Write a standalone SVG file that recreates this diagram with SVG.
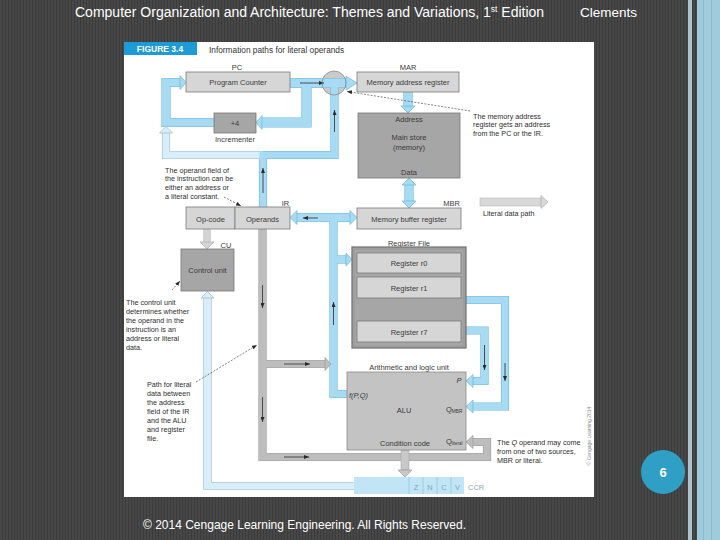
<svg xmlns="http://www.w3.org/2000/svg" width="720" height="540" viewBox="0 0 720 540">
<defs>
<pattern id="stripes" width="3" height="10" patternUnits="userSpaceOnUse">
<rect width="3" height="10" fill="#474747"/>
<rect x="2" width="1" height="10" fill="#3b3b3b"/>
</pattern>
<marker id="ah" markerUnits="userSpaceOnUse" markerWidth="5" markerHeight="4" refX="5" refY="2" orient="auto">
<path d="M0,0 L5,2 L0,4 z" fill="#2b2b2b"/>
</marker>
<style>
text{font-family:'Liberation Sans',Arial,sans-serif;}
.lbl{font-size:7.5px;fill:#3a3a3a;text-anchor:middle;}
.note{font-size:7.2px;fill:#2e2e2e;}
.box{fill:#d6d6d6;stroke:#7a7a7a;stroke-width:0.8;}
.dbox{fill:#a6a6a6;stroke:#777;stroke-width:0.8;}
.bo{fill:none;stroke:#6fb4d8;}
.bf{fill:none;stroke:#a7dbf4;}
.po{fill:none;stroke:#9fb6c2;}
.pf{fill:none;stroke:#d8eff9;}
.go{fill:none;stroke:#9c9c9c;}
.gf{fill:none;stroke:#bdbdbd;}
.bh{fill:#a7dbf4;stroke:#6fb4d8;stroke-width:0.7;}
.ph{fill:#d8eff9;stroke:#9fb6c2;stroke-width:0.7;}
.gh{fill:#bdbdbd;stroke:#9c9c9c;stroke-width:0.7;}
.lh{fill:#d4d4d4;stroke:#b0b0b0;stroke-width:0.7;}
.da{fill:none;stroke:#2b2b2b;stroke-width:0.8;marker-end:url(#ah);}
.dash{fill:none;stroke:#333;stroke-width:0.6;stroke-dasharray:2 1.4;marker-end:url(#ah);}
</style>
</defs>

<!-- page background -->
<rect width="720" height="540" fill="url(#stripes)"/>
<rect x="688" y="0" width="4" height="540" fill="#aac3cf"/>
<rect x="697" y="0" width="23" height="540" fill="#9fcbdc"/>
<rect x="703" y="0" width="1" height="540" fill="#8db9cb"/>
<rect x="711" y="0" width="1" height="540" fill="#8db9cb"/>

<text x="75" y="17" font-size="14" fill="#ffffff">Computer Organization and Architecture: Themes and Variations, 1<tspan font-size="8.5" dy="-5">st</tspan><tspan dy="5"> Edition</tspan></text>
<text x="580" y="17" font-size="13.5" fill="#ffffff">Clements</text>
<text x="143" y="529" font-size="12" fill="#ffffff">© 2014 Cengage Learning Engineering. All Rights Reserved.</text>

<g id="page-number">
<circle cx="663" cy="472" r="22" fill="#2f9fc6"/>
<text x="663" y="477" font-size="13" font-weight="bold" fill="#ffffff" text-anchor="middle">6</text>
</g>

<!-- figure area -->
<rect x="124" y="42" width="470" height="455" fill="#ffffff"/>
<g id="caption">
<rect x="124" y="42" width="73" height="13" fill="#1e9ad6"/>
<text x="160" y="52" font-size="8.5" font-weight="bold" fill="#ffffff" text-anchor="middle">FIGURE 3.4</text>
<text x="209" y="52.5" font-size="8.3" fill="#333">Information paths for literal operands</text>
</g>

<!-- multiplexer circle fill -->
<circle cx="334" cy="83" r="12" fill="#cacaca"/>

<g id="connectors">
<!-- outlines -->
<path class="bo" stroke-width="10.2" d="M290,83 H347"/>
<path class="bo" stroke-width="10.2" d="M306.5,83 V122.5 H262"/>
<path class="bo" stroke-width="9.2" d="M214,122.5 H166 V82.5 H180"/>
<path class="po" stroke-width="8.2" d="M263,155 H166 V133"/>
<path class="po" stroke-width="8.2" d="M354,486 H207.5 V298"/>
<path class="bo" stroke-width="8.2" d="M263,207 V155 H334.5 V84"/>
<path class="bo" stroke-width="9.2" d="M408,92 V106"/>
<path class="bo" stroke-width="9.2" d="M409,185 V201"/>
<path class="bo" stroke-width="9.2" d="M297,217.5 H350"/>
<path class="bo" stroke-width="8.2" d="M333.5,217.5 V394 H347"/>
<path class="bo" stroke-width="8.2" d="M333.5,259.5 H346"/>
<path class="bo" stroke-width="8.2" d="M466,300 H505 V406.5 H473"/>
<path class="bo" stroke-width="8.2" d="M466,330.5 H484.5 V381 H473"/>
<path class="go" stroke-width="8.2" d="M262.5,229 V457 H487 V442 H473"/>
<path class="go" stroke-width="8.2" d="M262.5,364 H325"/>
<!-- fills -->
<path class="bf" stroke-width="9" d="M290,83 H347"/>
<path class="bf" stroke-width="9" d="M306.5,83 V122.5 H262"/>
<path class="bf" stroke-width="8" d="M214,122.5 H166 V82.5 H180"/>
<path class="pf" stroke-width="7" d="M263,155 H166 V133"/>
<path class="pf" stroke-width="7" d="M354,486 H207.5 V298"/>
<path class="bf" stroke-width="7" d="M263,207 V155 H334.5 V84"/>
<path class="bf" stroke-width="8" d="M408,92 V106"/>
<path class="bf" stroke-width="8" d="M409,185 V201"/>
<path class="bf" stroke-width="8" d="M297,217.5 H350"/>
<path class="bf" stroke-width="7" d="M333.5,217.5 V394 H347"/>
<path class="bf" stroke-width="7" d="M333.5,259.5 H346"/>
<path class="bf" stroke-width="7" d="M466,300 H505 V406.5 H473"/>
<path class="bf" stroke-width="7" d="M466,330.5 H484.5 V381 H473"/>
<path class="gf" stroke-width="7" d="M262.5,229 V457 H487 V442 H473"/>
<path class="gf" stroke-width="7" d="M262.5,364 H325"/>
<!-- light gray arrows -->
<rect x="203" y="229" width="8" height="13" fill="#d4d4d4"/>
<polygon class="lh" points="200,242 207,249 214,242"/>
<rect x="401" y="450" width="8" height="20" fill="#c8c8c8" stroke="#a8a8a8" stroke-width="0.6"/>
<polygon class="gh" points="398,470 405,477 412,470" style="fill:#c8c8c8"/>
<rect x="480" y="198" width="61" height="8" fill="#d8d8d8" stroke="#bdbdbd" stroke-width="0.6"/>
<polygon class="lh" points="541,195.5 548,202 541,208.5" style="fill:#d8d8d8"/>
<!-- heads -->
<polygon class="bh" points="346,76 357,83 346,90"/>
<polygon class="bh" points="262,115.5 256,122.5 262,129.5"/>
<polygon class="bh" points="180,75.5 186,82.5 180,89.5"/>
<polygon class="ph" points="159.5,133 166,126.5 172.5,133"/>
<polygon class="ph" points="201,298 207.5,291.5 214,298"/>
<polygon class="bh" points="401,106 408,113 415,106"/>
<polygon class="bh" points="402,185 409,178 416,185"/>
<polygon class="bh" points="402,201 409,208 416,201"/>
<polygon class="bh" points="297,210.5 290,217.5 297,224.5"/>
<polygon class="bh" points="350,210.5 357,217.5 350,224.5"/>
<polygon class="bh" points="346,253 352,259.5 346,266"/>
<polygon class="bh" points="473,400 466,406.5 473,413"/>
<polygon class="bh" points="473,374.5 466,381 473,387.5"/>
<polygon class="gh" points="473,435.5 466,442 473,448.5"/>
<polygon class="gh" points="325,357.5 331,364 325,370.5"/>
<!-- direction arrows -->
<path class="da" d="M300,83 H324"/>
<path class="da" d="M334.5,132 V110"/>
<path class="da" d="M263,193 V168"/>
<path class="da" d="M318,218 H303"/>
<path class="da" d="M333.5,325 V302"/>
<path class="da" d="M505,363 V381"/>
<path class="da" d="M484.5,345 V370"/>
<path class="da" d="M262.5,285 V308"/>
<path class="da" d="M262.5,397 V422"/>
<path class="da" d="M284,457 H309"/>
<path class="da" d="M284,364 H310"/>
<!-- dashed callouts -->
<path class="dash" d="M470,111 L347,91.5"/>
<path class="dash" d="M224,197 L241,206"/>
<path class="dash" d="M172,290 L180,281"/>
<path class="dash" d="M196,382 L257,345"/>
</g>

<g id="mux"><circle cx="334" cy="83" r="12" fill="none" stroke="#8a8a8a" stroke-width="0.8"/></g>

<g id="pc">
<text class="lbl" x="237" y="70">PC</text>
<rect class="box" x="186" y="72" width="104" height="20"/>
<text class="lbl" x="238" y="85">Program Counter</text>
</g>
<g id="incrementer">
<rect class="dbox" x="214" y="113" width="42" height="20"/>
<text class="lbl" x="235" y="126">+4</text>
<text class="lbl" x="235" y="142">Incrementer</text>
</g>
<g id="mar">
<text class="lbl" x="408" y="70">MAR</text>
<rect class="box" x="357" y="72" width="102" height="20"/>
<text class="lbl" x="408" y="85">Memory address register</text>
</g>
<g id="main-store">
<rect class="dbox" x="358" y="113" width="102" height="65"/>
<text class="lbl" x="409" y="122">Address</text>
<text class="lbl" x="409" y="139.5">Main store</text>
<text class="lbl" x="409" y="150">(memory)</text>
<text class="lbl" x="409" y="174.5">Data</text>
</g>
<g id="mbr">
<text class="lbl" x="460" y="205.5" style="text-anchor:end">MBR</text>
<rect class="box" x="357" y="208" width="104" height="21"/>
<text class="lbl" x="409" y="221.5">Memory buffer register</text>
</g>
<g id="legend">
<text class="note" x="483" y="215.5">Literal data path</text>
</g>
<g id="ir">
<text class="lbl" x="285.5" y="205.5">IR</text>
<rect class="box" x="186" y="207" width="49" height="22"/>
<rect class="box" x="235" y="207" width="55" height="22"/>
<text class="lbl" x="210.5" y="221.5">Op-code</text>
<text class="lbl" x="262.5" y="221.5">Operands</text>
</g>
<g id="control-unit">
<text class="lbl" x="226" y="247.5">CU</text>
<rect class="dbox" x="181" y="249" width="53" height="42"/>
<text class="lbl" x="207.5" y="272.5">Control unit</text>
</g>
<g id="register-file">
<text class="lbl" x="409" y="245.5">Register File</text>
<rect x="352" y="247" width="114" height="101" fill="#a6a6a6" stroke="#6e6e6e" stroke-width="1.2"/>
<rect x="354" y="249" width="110" height="97" fill="none" stroke="#8c8c8c" stroke-width="0.6"/>
<rect class="box" x="357" y="253" width="104" height="20"/>
<text class="lbl" x="409" y="265.5">Register r0</text>
<rect class="box" x="357" y="277" width="104" height="21"/>
<text class="lbl" x="409" y="290.5">Register r1</text>
<rect class="box" x="357" y="321" width="104" height="21"/>
<text class="lbl" x="409" y="334.5">Register r7</text>
</g>
<g id="alu">
<text class="lbl" x="409" y="369.5">Arithmetic and logic unit</text>
<rect x="347" y="372" width="119" height="78" fill="#c3c3c3" stroke="#8a8a8a" stroke-width="0.8"/>
<text class="lbl" x="459" y="383" font-style="italic">P</text>
<text class="lbl" x="349" y="398" font-style="italic" style="text-anchor:start">f(P,Q)</text>
<text class="lbl" x="404" y="412.5">ALU</text>
<text class="lbl" x="446" y="412" style="text-anchor:start">Q<tspan font-size="4.8" dy="1">MBR</tspan></text>
<text class="lbl" x="446" y="444" style="text-anchor:start">Q<tspan font-size="4.5" dy="1">literal</tspan></text>
<text class="lbl" x="405" y="445.5">Condition code</text>
</g>
<g id="ccr">
<rect x="354" y="477" width="110" height="17" fill="#c2e5f5"/>
<path d="M409,477 V494 M423,477 V494 M437,477 V494 M451,477 V494" stroke="#93c8e0" stroke-width="0.8"/>
<text class="lbl" x="416" y="489.5" style="fill:#7ea7bb">Z</text>
<text class="lbl" x="430" y="489.5" style="fill:#7ea7bb">N</text>
<text class="lbl" x="444" y="489.5" style="fill:#7ea7bb">C</text>
<text class="lbl" x="457.5" y="489.5" style="fill:#7ea7bb">V</text>
<text class="lbl" x="468" y="489.5" style="fill:#8aa8b8;text-anchor:start">CCR</text>
</g>

<g id="notes">
<text class="note" x="473" y="118.5">The memory address</text>
<text class="note" x="473" y="127">register gets an address</text>
<text class="note" x="473" y="136">from the PC or the IR.</text>
<text class="note" x="165" y="172.5">The operand field of</text>
<text class="note" x="165" y="181">the instruction can be</text>
<text class="note" x="165" y="190">either an address or</text>
<text class="note" x="165" y="199">a literal constant.</text>
<text class="note" x="126" y="304.5">The control unit</text>
<text class="note" x="126" y="313.5">determines whether</text>
<text class="note" x="126" y="322.5">the operand in the</text>
<text class="note" x="126" y="331.5">instruction is an</text>
<text class="note" x="126" y="340.5">address or literal</text>
<text class="note" x="126" y="349.5">data.</text>
<text class="note" x="147" y="386.5">Path for literal</text>
<text class="note" x="147" y="395.5">data between</text>
<text class="note" x="147" y="404.5">the address</text>
<text class="note" x="147" y="413.5">field of the IR</text>
<text class="note" x="147" y="422.5">and the ALU</text>
<text class="note" x="147" y="431.5">and register</text>
<text class="note" x="147" y="440.5">file.</text>
<text class="note" x="497" y="444.5">The <tspan font-style="italic">Q</tspan> operand may come</text>
<text class="note" x="497" y="453.5">from one of two sources,</text>
<text class="note" x="497" y="462.5">MBR or literal.</text>
<text x="0" y="0" font-size="5" fill="#8a8a8a" text-anchor="middle" transform="translate(591,436) rotate(-90)">© Cengage Learning 2014</text>
</g>
</svg>
